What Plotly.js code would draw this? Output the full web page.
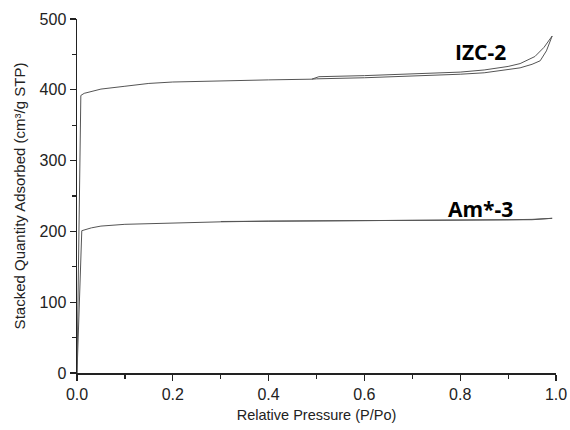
<!DOCTYPE html>
<html><head><meta charset="utf-8">
<script src="https://cdn.plot.ly/plotly-3.0.1.min.js"></script>
<style>body{margin:0;background:#fff}#c{width:570px;height:430px}</style>
</head><body><div id="c"></div>
<script>
// IZC-2 adsorption branch
const izcAdsP = [0.0, 0.008, 0.015, 0.03, 0.05, 0.1, 0.15, 0.2, 0.3, 0.4, 0.49, 0.5, 0.6, 0.7, 0.8, 0.85, 0.9, 0.925, 0.95, 0.967, 0.98, 0.992];
const izcAdsV = [0, 392, 395, 398, 401, 405, 409, 411, 413, 414, 415, 415.5, 417, 419, 422, 424, 429, 431, 436, 441, 455, 476];
// IZC-2 desorption branch
const izcDesP = [0.992, 0.975, 0.956, 0.925, 0.9, 0.85, 0.8, 0.7, 0.6, 0.505, 0.49];
const izcDesV = [476, 460, 447, 437, 433, 428, 425, 422, 420, 418.5, 415];
// Am*-3 adsorption branch
const amAdsP = [0.0, 0.01, 0.03, 0.05, 0.1, 0.15, 0.2, 0.3, 0.4, 0.5, 0.6, 0.7, 0.8, 0.9, 0.95, 0.992];
const amAdsV = [0, 201, 205, 207.5, 210, 211, 212, 213.5, 214.5, 215, 215, 215, 215.5, 216, 216.5, 218.5];
// Am*-3 desorption branch
const amDesP = [0.992, 0.95, 0.9, 0.8, 0.7, 0.6, 0.5, 0.4, 0.3];
const amDesV = [218.5, 217, 216.5, 216, 215.5, 215.5, 215.5, 215, 214];

const labels = [
  {text: "IZC-2", x: 0.842, y: 453},
  {text: "Am*-3", x: 0.842, y: 232}
];

const lineStyle = {color: '#555555', width: 1};
const traces = [
  {x: izcAdsP, y: izcAdsV},
  {x: izcDesP, y: izcDesV},
  {x: amAdsP, y: amAdsV},
  {x: amDesP, y: amDesV}
].map(t => Object.assign(t, {type: 'scatter', mode: 'lines', line: lineStyle, showlegend: false, hoverinfo: 'skip'}));

const layout = {
  width: 570, height: 430,
  margin: {l: 77, r: 14, t: 19, b: 57},
  paper_bgcolor: '#ffffff', plot_bgcolor: '#ffffff',
  font: {family: 'Liberation Sans, Arial, sans-serif', color: '#222222'},
  xaxis: {
    range: [0, 1], dtick: 0.2, tickformat: '.1f',
    showgrid: false, zeroline: false, showline: true, linecolor: '#222', linewidth: 1.5,
    ticks: 'outside', ticklen: 6, tickwidth: 1.2, tickcolor: '#222',
    minor: {dtick: 0.1, ticks: 'outside', ticklen: 4, tickwidth: 1.2, tickcolor: '#222', showgrid: false},
    tickfont: {size: 16, color: '#222'},
    title: {text: 'Relative Pressure (P/Po)', font: {size: 14.5, color: '#222'}, standoff: 8}
  },
  yaxis: {
    range: [0, 500], dtick: 100,
    showgrid: false, zeroline: false, showline: true, linecolor: '#222', linewidth: 1.5,
    ticks: 'outside', ticklen: 6, tickwidth: 1.2, tickcolor: '#222',
    minor: {dtick: 50, ticks: 'outside', ticklen: 4, tickwidth: 1.2, tickcolor: '#222', showgrid: false},
    tickfont: {size: 16, color: '#222'},
    title: {text: 'Stacked Quantity Adsorbed (cm³/g STP)', font: {size: 15, color: '#222'}, standoff: 10}
  },
  annotations: labels.map(l => ({
    text: '<b>' + l.text + '</b>', x: l.x, y: l.y, xref: 'x', yref: 'y',
    showarrow: false, font: {family: 'Open Sans, Liberation Sans, sans-serif', size: 21, color: '#000'}
  }))
};

Plotly.newPlot('c', traces, layout, {staticPlot: true, displayModeBar: false});
</script>
</body></html>
